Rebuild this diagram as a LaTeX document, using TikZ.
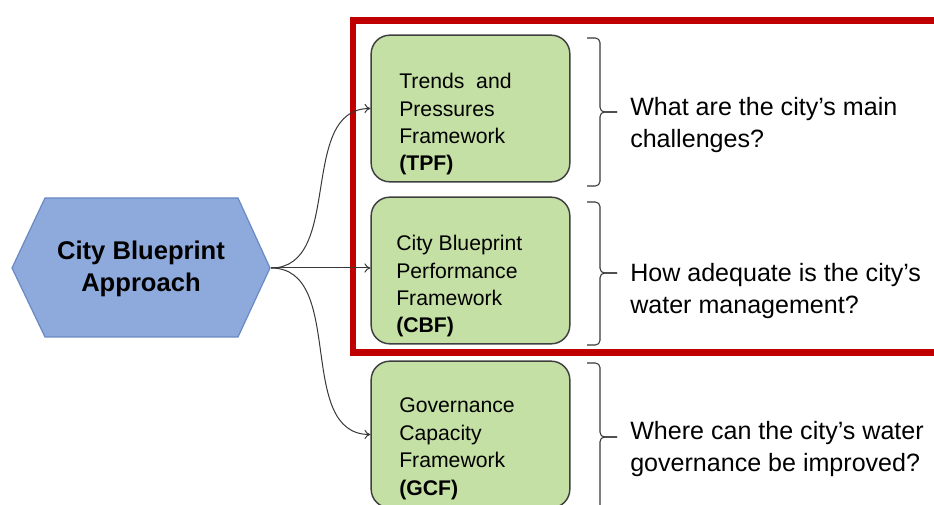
\documentclass[tikz,border=0pt]{standalone}
\usepackage{fontspec}
\setmainfont{Liberation Sans}
\usetikzlibrary{arrows.meta}
\definecolor{hexfill}{HTML}{8EA9DB}
\definecolor{hexline}{HTML}{6A8AC4}
\definecolor{boxfill}{HTML}{C5E0A4}
\definecolor{boxline}{HTML}{3F3F3F}
\definecolor{redframe}{HTML}{C00000}
\definecolor{wire}{HTML}{383838}
\tikzset{
  fwbox/.style={draw=boxline, line width=1.1pt, fill=boxfill, rounded corners=14pt,
    minimum width=149pt, minimum height=110pt, inner sep=0pt},
  fwtext/.style={anchor=base west, align=left, inner sep=0pt,
    font=\fontsize{15.9pt}{20.6pt}\selectfont, text=black},
  qtext/.style={anchor=base west, align=left, inner sep=0pt,
    font=\fontsize{18.8pt}{24pt}\selectfont, text=black},
  wirearrow/.style={draw=wire, line width=0.75pt, -{To[length=4.5pt,width=7pt]}},
  bracepath/.style={draw=wire, line width=0.8pt, rounded corners=3.5pt},
}
\begin{document}
\begin{tikzpicture}[x=0.75pt,y=-0.75pt]
\useasboundingbox (0,0) rectangle (934,505);
\clip (0,0) rectangle (934,505);
% hexagon
\draw[draw=hexline, line width=0.9pt, fill=hexfill]
  (12,268) -- (45,198) -- (238,198) -- (270,268) -- (238,337) -- (45,337) -- cycle;
\coordinate (hexR) at (271,268);
\node[align=center, inner sep=0pt, font=\fontsize{19.2pt}{23.5pt}\selectfont\bfseries] (title) at (141,269)
  {City Blueprint\\Approach};
% red frame
\draw[redframe, line width=4.6pt] (950,20.5) -- (353,20.5) -- (353,352.5) -- (950,352.5);
% boxes
\node[fwbox] (tpf) at (470.5,108.5) {};
\node[fwbox] (cbf) at (470.5,270.5) {};
\node[fwbox] (gcf) at (470.5,434.5) {};
\node[fwtext] (tpft) at (399,171) {Trends\ \ and\\Pressures\\Framework\\\textbf{(TPF)}};
\node[fwtext] (cbft) at (396,333) {City Blueprint\\Performance\\Framework\\\textbf{(CBF)}};
\node[fwtext] (gcft) at (399,495) {Governance\\Capacity\\Framework\\\textbf{(GCF)}};
% connectors
\draw[wirearrow] (hexR) to[out=0,in=180] (tpf.west);
\draw[wirearrow] (hexR) -- (hexR -| cbf.west);
\draw[wirearrow] (hexR) to[out=0,in=180] (gcf.west);
% braces
\coordinate (b1) at (617,112);
\coordinate (b2) at (617,273);
\coordinate (b3) at (617,437);
\draw[bracepath] (587,38) -- (600,38) -- (600,112) -- (b1);
\draw[bracepath] (b1) -- (600,112) -- (600,186) -- (587,186);
\draw[bracepath] (587,202) -- (600,202) -- (600,273) -- (b2);
\draw[bracepath] (b2) -- (600,273) -- (600,345) -- (587,345);
\draw[bracepath] (587,363) -- (600,363) -- (600,437) -- (b3);
\draw[bracepath] (b3) -- (600,437) -- (600,512) -- (587,512);
% questions
\node[qtext] (q1) at (630,148) {What are the city’s main\\challenges?};
\node[qtext] (q2) at (630,314) {How adequate is the city’s\\water management?};
\node[qtext] (q3) at (630,471) {Where can the city’s water\\governance be improved?};
\end{tikzpicture}
\end{document}
